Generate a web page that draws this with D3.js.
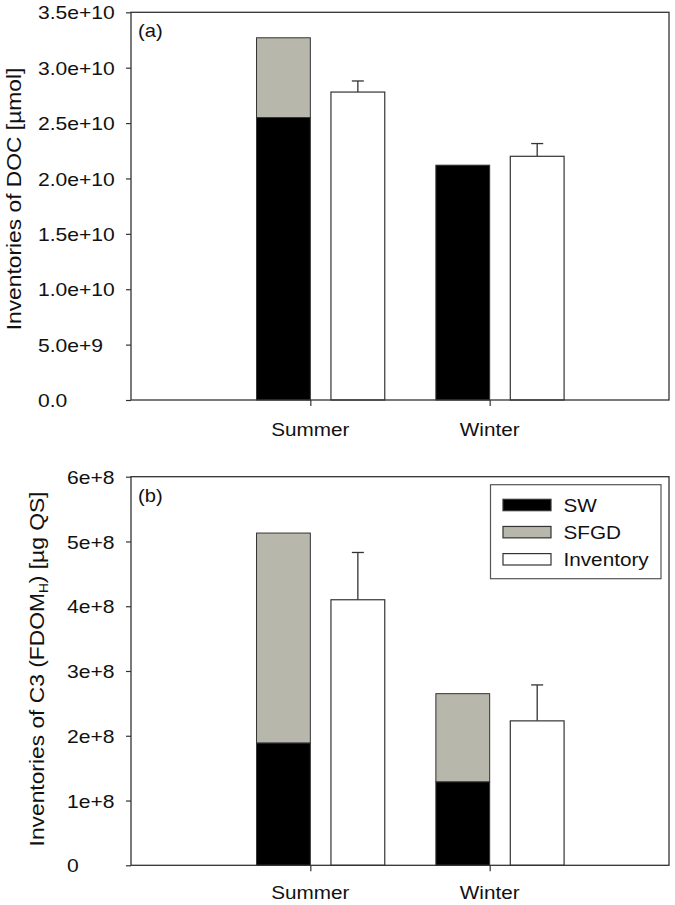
<!DOCTYPE html>
<html><head><meta charset="utf-8">
<script src="https://cdn.jsdelivr.net/npm/d3@7"></script>
<style>
html,body{margin:0;padding:0;background:#fff;}
text{font-family:"Liberation Sans",Arial,sans-serif;fill:#111;}
</style></head>
<body><svg id="c" width="675" height="905"></svg>
<script>
const categories = ["Summer", "Winter"];
// Panel (a): DOC inventories [µmol]
const docSW = [2.55e10, 2.12e10];
const docSFGD = [0.72e10, 0];
const docInventory = [2.78e10, 2.20e10];
const docErr = [0.10e10, 0.115e10];
const docTicks = [0, 5e9, 1e10, 1.5e10, 2e10, 2.5e10, 3e10, 3.5e10];
const docTickLabels = ["0.0", "5.0e+9", "1.0e+10", "1.5e+10", "2.0e+10", "2.5e+10", "3.0e+10", "3.5e+10"];
// Panel (b): C3 (FDOM_H) inventories [µg QS]
const c3SW = [1.89e8, 1.29e8];
const c3SFGD = [3.24e8, 1.36e8];
const c3Inventory = [4.10e8, 2.23e8];
const c3Err = [0.73e8, 0.555e8];
const c3Ticks = [0, 1e8, 2e8, 3e8, 4e8, 5e8, 6e8];
const c3TickLabels = ["0", "1e+8", "2e+8", "3e+8", "4e+8", "5e+8", "6e+8"];
const legendLabels = ["SW", "SFGD", "Inventory"];

const svg = d3.select("#c");
const SX = 1.12; // horizontal stretch of the reference's text
const FS = 18;
const lineCol = "#333";
const gray = "#b7b7ac";

function txt(g, x, y, s, anchor, size, rot, sx) {
  const t = g.append("text")
    .attr("transform", `translate(${x},${y})` + (rot ? ` rotate(${rot})` : "") + ` scale(${sx || SX},1)`)
    .attr("text-anchor", anchor || "start")
    .style("font-size", (size || FS) + "px");
  if (s !== null) t.text(s);
  return t;
}

const X0 = 131, X1 = 669;
const x = d3.scaleLinear().domain([0, 3]).range([X0, X1]);
const catPos = d3.scaleOrdinal().domain(categories).range([1, 2]);

function panel(cfg) {
  const g = svg.append("g");
  const y = d3.scaleLinear().domain([0, cfg.max]).range([cfg.bottom, cfg.top]);
  categories.forEach((c, i) => {
    const cx = catPos(c);
    const xa = x(cx - 0.3), xb = x(cx);
    g.append("rect").attr("x", xa).attr("width", xb - xa)
      .attr("y", y(cfg.sw[i])).attr("height", y(0) - y(cfg.sw[i]))
      .attr("fill", "#000").attr("stroke", lineCol).attr("stroke-width", 1);
    if (cfg.sfgd[i] > 0) {
      const top = cfg.sw[i] + cfg.sfgd[i];
      g.append("rect").attr("x", xa).attr("width", xb - xa)
        .attr("y", y(top)).attr("height", y(cfg.sw[i]) - y(top))
        .attr("fill", gray).attr("stroke", lineCol).attr("stroke-width", 1);
    }
    const xi0 = x(cx + 0.115), xi1 = x(cx + 0.415), xm = (xi0 + xi1) / 2;
    const eTop = cfg.inv[i] + cfg.err[i];
    g.append("line").attr("x1", xm).attr("x2", xm).attr("y1", y(cfg.inv[i])).attr("y2", y(eTop))
      .attr("stroke", lineCol).attr("stroke-width", 1.3);
    g.append("line").attr("x1", xm - 6).attr("x2", xm + 6).attr("y1", y(eTop)).attr("y2", y(eTop))
      .attr("stroke", lineCol).attr("stroke-width", 1.3);
    g.append("rect").attr("x", xi0).attr("width", xi1 - xi0)
      .attr("y", y(cfg.inv[i])).attr("height", y(0) - y(cfg.inv[i]))
      .attr("fill", "#fff").attr("stroke", lineCol).attr("stroke-width", 1.2);
  });
  g.append("rect").attr("x", X0).attr("y", cfg.top).attr("width", X1 - X0).attr("height", cfg.bottom - cfg.top)
    .attr("fill", "none").attr("stroke", lineCol).attr("stroke-width", 1.3);
  const ya = g.append("g").attr("transform", `translate(${X0},0)`)
    .call(d3.axisLeft(y).tickValues(cfg.ticks).tickSize(5).tickPadding(0)
      .tickFormat((d, i) => cfg.tickLabels[i]));
  ya.select(".domain").remove();
  ya.selectAll(".tick line").attr("stroke", lineCol).attr("stroke-width", 1.2);
  ya.selectAll(".tick text")
    .attr("x", null).attr("dy", null)
    .attr("transform", `translate(${cfg.labelX - X0},${0.36 * 18.2}) scale(1.16,1)`)
    .attr("text-anchor", "start")
    .style("font-size", "18.2px").style("font-family", '"Liberation Sans",Arial,sans-serif')
    .attr("fill", "#111");
  const xa = g.append("g").attr("transform", `translate(0,${cfg.bottom})`)
    .call(d3.axisBottom(x).tickValues(categories.map(catPos)).tickSize(6).tickFormat(""));
  xa.select(".domain").remove();
  xa.selectAll(".tick line").attr("stroke", lineCol).attr("stroke-width", 1.2);
  categories.forEach(c => txt(g, x(catPos(c)), cfg.bottom + cfg.xLabelDy, c, "middle", 18.5));
  txt(g, 138, cfg.top + 25, cfg.letter, "start", 18);
  const t = txt(g, cfg.titleX, cfg.titleY, null, "middle", 20, -90, 1.14);
  cfg.title(t);
  return g;
}

panel({
  top: 12.3, bottom: 400, max: 3.5e10,
  sw: docSW, sfgd: docSFGD, inv: docInventory, err: docErr,
  ticks: docTicks, tickLabels: docTickLabels, labelX: 38,
  xLabelDy: 36, letter: "(a)", titleX: 20.5, titleY: 199,
  title: t => t.text("Inventories of DOC [µmol]")
});

panel({
  top: 476.7, bottom: 865.3, max: 6e8,
  sw: c3SW, sfgd: c3SFGD, inv: c3Inventory, err: c3Err,
  ticks: c3Ticks, tickLabels: c3TickLabels, labelX: 67,
  xLabelDy: 34, letter: "(b)", titleX: 43.5, titleY: 669,
  title: t => {
    t.append("tspan").text("Inventories of C3 (FDOM");
    t.append("tspan").text("H").style("font-size", "12px").attr("dy", 4);
    t.append("tspan").text(") [µg QS]").attr("dy", -4);
  }
});

const lg = svg.append("g");
lg.append("rect").attr("x", 490.5).attr("y", 484.7).attr("width", 170.5).attr("height", 94)
  .attr("fill", "#fff").attr("stroke", "#555").attr("stroke-width", 1.2);
const legFill = ["#000", gray, "#fff"];
const legY = d3.scalePoint().domain(legendLabels).range([505, 559.3]);
legendLabels.forEach((l, i) => {
  lg.append("rect").attr("x", 503).attr("y", legY(l) - 5.7).attr("width", 48).attr("height", 11.4)
    .attr("fill", legFill[i]).attr("stroke", lineCol).attr("stroke-width", 1.2);
  txt(lg, 563.5, legY(l) + 6.5, l, "start", 18.5);
});
</script></body></html>
